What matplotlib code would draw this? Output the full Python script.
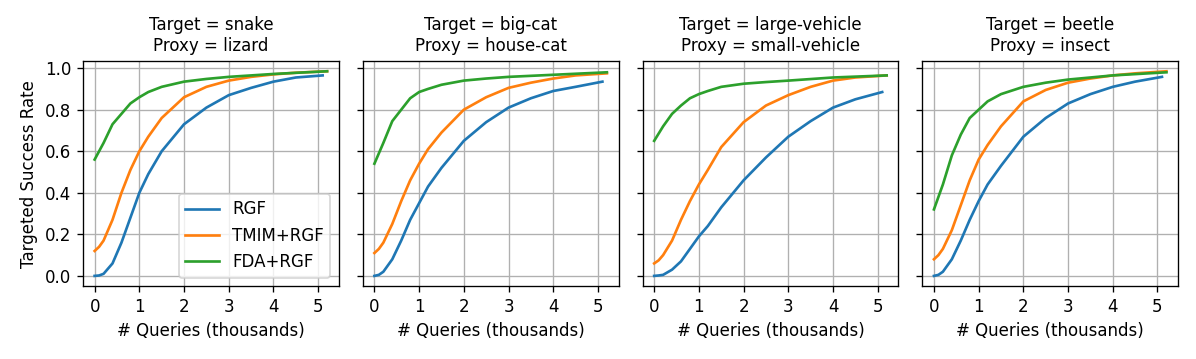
import matplotlib
matplotlib.use("Agg")
import matplotlib.pyplot as plt

titles = ["Target = snake\nProxy = lizard",
          "Target = big-cat\nProxy = house-cat",
          "Target = large-vehicle\nProxy = small-vehicle",
          "Target = beetle\nProxy = insect"]
labels = ["RGF", "TMIM+RGF", "FDA+RGF"]
colors = ["#1f77b4", "#ff7f0e", "#2ca02c"]

# queries in thousands
x_rgf = [0, 0.1, 0.2, 0.4, 0.6, 0.8, 1.0, 1.2, 1.5, 2.0, 2.5, 3.0, 3.5, 4.0, 4.5, 5.1]
x_tmim = [0, 0.1, 0.2, 0.4, 0.6, 0.8, 1.0, 1.2, 1.5, 2.0, 2.5, 3.0, 3.5, 4.0, 4.5, 5.2]
x_fda = [0, 0.2, 0.4, 0.6, 0.8, 1.0, 1.2, 1.5, 2.0, 2.5, 3.0, 4.0, 5.2]

rgf = [
    [0.0, 0.002, 0.01, 0.06, 0.16, 0.28, 0.40, 0.49, 0.60, 0.73, 0.81, 0.87, 0.905, 0.935, 0.955, 0.965],
    [0.0, 0.005, 0.02, 0.08, 0.17, 0.27, 0.35, 0.43, 0.52, 0.65, 0.74, 0.81, 0.855, 0.89, 0.91, 0.935],
    [0.0, 0.002, 0.005, 0.03, 0.07, 0.13, 0.19, 0.24, 0.33, 0.46, 0.57, 0.67, 0.745, 0.81, 0.85, 0.885],
    [0.0, 0.005, 0.02, 0.08, 0.17, 0.27, 0.36, 0.44, 0.53, 0.67, 0.76, 0.83, 0.875, 0.91, 0.935, 0.958],
]
tmim = [
    [0.12, 0.14, 0.17, 0.27, 0.40, 0.51, 0.60, 0.67, 0.76, 0.86, 0.91, 0.94, 0.958, 0.97, 0.978, 0.985],
    [0.11, 0.13, 0.16, 0.25, 0.36, 0.46, 0.54, 0.61, 0.69, 0.80, 0.86, 0.905, 0.93, 0.95, 0.965, 0.975],
    [0.06, 0.075, 0.10, 0.17, 0.27, 0.36, 0.44, 0.51, 0.62, 0.74, 0.82, 0.87, 0.91, 0.94, 0.955, 0.965],
    [0.08, 0.10, 0.13, 0.22, 0.34, 0.46, 0.56, 0.63, 0.72, 0.84, 0.895, 0.93, 0.95, 0.965, 0.975, 0.985],
]
fda = [
    [0.56, 0.64, 0.73, 0.78, 0.83, 0.86, 0.885, 0.91, 0.935, 0.948, 0.958, 0.972, 0.985],
    [0.54, 0.64, 0.745, 0.80, 0.855, 0.885, 0.90, 0.92, 0.94, 0.95, 0.958, 0.968, 0.98],
    [0.65, 0.72, 0.78, 0.82, 0.855, 0.875, 0.89, 0.91, 0.925, 0.933, 0.94, 0.955, 0.965],
    [0.32, 0.44, 0.58, 0.68, 0.76, 0.80, 0.84, 0.875, 0.91, 0.93, 0.945, 0.965, 0.98],
]

fig, axes = plt.subplots(1, 4, figsize=(1196 / 120, 359 / 120), dpi=120, sharey=True)
fig.subplots_adjust(left=0.0694, right=0.985, bottom=0.203, top=0.830, wspace=0.094)

for i, ax in enumerate(axes):
    ax.plot(x_rgf, rgf[i], color=colors[0], lw=1.6, label=labels[0])
    ax.plot(x_tmim, tmim[i], color=colors[1], lw=1.6, label=labels[1])
    ax.plot(x_fda, fda[i], color=colors[2], lw=1.6, label=labels[2])
    ax.set_title(titles[i], fontsize=10)
    ax.set_xlabel("# Queries (thousands)", fontsize=10)
    ax.set_xticks([0, 1, 2, 3, 4, 5])
    ax.set_yticks([0.0, 0.2, 0.4, 0.6, 0.8, 1.0])
    ax.grid(True, color="#b0b0b0", lw=0.8)
    ax.set_axisbelow(True)
    ax.tick_params(labelsize=10)

axes[0].set_ylabel("Targeted Success Rate", fontsize=10)
axes[0].legend(loc="lower right", fontsize=10)

fig.savefig("out.png")
